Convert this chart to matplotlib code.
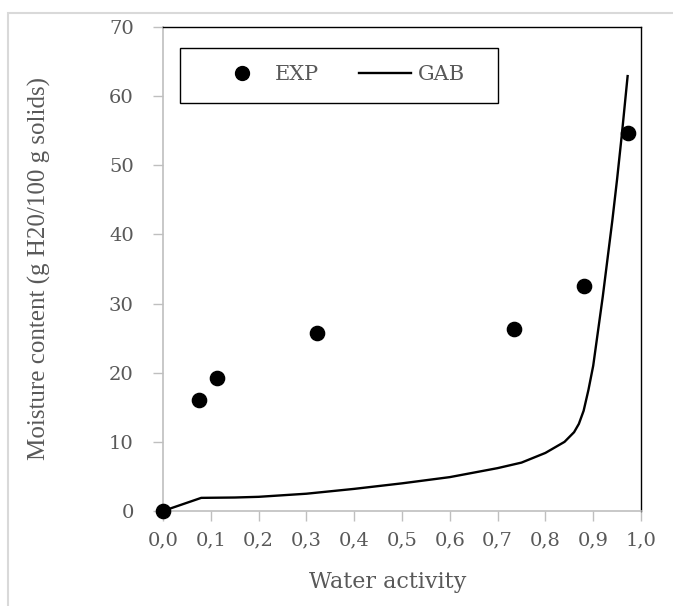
import matplotlib
matplotlib.use("Agg")
import matplotlib.pyplot as plt
from matplotlib.lines import Line2D
from matplotlib.patches import Rectangle
from matplotlib.ticker import FuncFormatter

# Data
exp_aw = [0.0, 0.075, 0.112, 0.323, 0.734, 0.881, 0.973]
exp_m = [0.0, 16.0, 19.2, 25.7, 26.3, 32.5, 54.6]

gab_aw = [0.0, 0.08, 0.15, 0.2, 0.3, 0.4, 0.5, 0.6, 0.7, 0.75, 0.8, 0.84,
          0.86, 0.87, 0.88, 0.89, 0.9, 0.91, 0.92, 0.93, 0.94, 0.95, 0.96, 0.972]
gab_m = [0.0, 1.9, 1.95, 2.05, 2.5, 3.2, 4.0, 4.9, 6.2, 7.0, 8.4, 10.0,
         11.4, 12.6, 14.5, 17.5, 21.0, 26.0, 31.0, 36.5, 42.0, 48.0, 54.5, 62.9]

x_ticks = [0.0, 0.1, 0.2, 0.3, 0.4, 0.5, 0.6, 0.7, 0.8, 0.9, 1.0]
y_ticks = [0, 10, 20, 30, 40, 50, 60, 70]

W, H = 673, 606
fig = plt.figure(figsize=(W / 100, H / 100), dpi=100)
ax = fig.add_axes([163 / W, 1 - 511 / H, (641 - 163) / W, (511 - 27) / H])

# outer chart-area frame (light gray)
fig.add_artist(Rectangle((8 / W, -0.1), 1.2, 0.1 + (1 - 13 / H), transform=fig.transFigure,
                         fill=False, edgecolor="#d9d9d9", lw=1.5, zorder=0))

ax.plot(gab_aw, gab_m, color="black", lw=1.7, zorder=3, solid_joinstyle="round")
ax.scatter(exp_aw, exp_m, s=105, color="black", zorder=4, clip_on=False)

ax.set_xlim(0, 1.0)
ax.set_ylim(0, 70)
ax.set_xticks(x_ticks)
ax.set_yticks(y_ticks)
ax.xaxis.set_major_formatter(FuncFormatter(lambda v, p: f"{v:.1f}".replace(".", ",")))

gray = "#595959"
for lab in ax.get_xticklabels() + ax.get_yticklabels():
    lab.set_fontfamily("DejaVu Serif")
    lab.set_fontsize(14)
    lab.set_color(gray)

ax.tick_params(axis="both", direction="out", length=7, width=1, color="#bfbfbf")
ax.tick_params(axis="x", pad=8)
ax.tick_params(axis="y", pad=14)

for side in ("left", "bottom"):
    ax.spines[side].set_color("#bfbfbf")
    ax.spines[side].set_linewidth(1.2)
for side in ("top", "right"):
    ax.spines[side].set_color("black")
    ax.spines[side].set_linewidth(1.0)

ax.set_xlabel("Water activity", fontfamily="DejaVu Serif", fontsize=16, color=gray, labelpad=15)
ax.xaxis.label.set_x(0.471)
ax.set_ylabel("Moisture content (g H20/100 g solids)", fontfamily="Liberation Serif",
              fontsize=18, color=gray, labelpad=42)

# legend box
ax.add_patch(Rectangle((0.0356, 0.843), 0.665, 0.114, transform=ax.transAxes,
                       fill=True, facecolor="white", edgecolor="black", lw=1.0, zorder=5))
handles = [Line2D([], [], marker="o", linestyle="none", color="black", markersize=10),
           Line2D([], [], color="black", lw=1.7)]
leg = ax.legend(handles, ["EXP", "GAB"], loc="center left", ncol=2,
                bbox_to_anchor=(0.111, 0.901), borderaxespad=0, borderpad=0,
                frameon=False,
                prop={"family": "DejaVu Serif", "size": 15},
                handlelength=2.5, handletextpad=0.3, columnspacing=1.95)
leg.set_zorder(6)
for t in leg.get_texts():
    t.set_color(gray)

fig.savefig("out.png", dpi=100)
